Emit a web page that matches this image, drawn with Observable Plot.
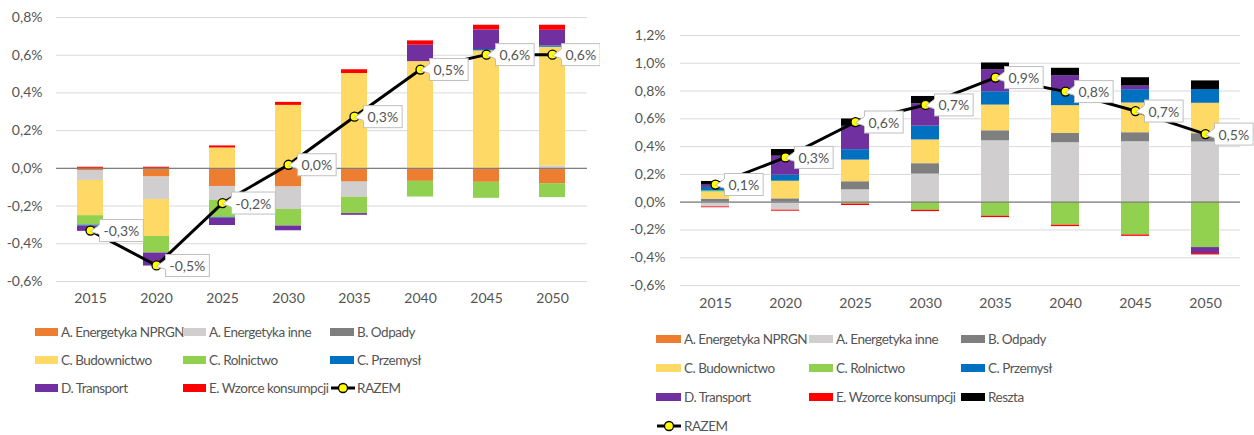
<!DOCTYPE html>
<html>
<head>
<meta charset="utf-8">
<script src="https://cdn.jsdelivr.net/npm/d3@7"></script>
<script src="https://cdn.jsdelivr.net/npm/@observablehq/plot@0.6"></script>
<style>
  html, body { margin: 0; padding: 0; background: #fff; }
  #wrap { position: relative; width: 1254px; height: 435px; font-family: Lato, "Open Sans", sans-serif; color: #595959; }
  .chart { position: absolute; top: 0; }
  .leg { position: absolute; font-size: 13.5px; white-space: nowrap; line-height: 16px; letter-spacing: -0.5px; color: #555; }
  .sw { position: absolute; height: 8px; }
</style>
</head>
<body>
<div id="wrap"></div>
<script>
// ---------- DATA ----------
const years = [2015, 2020, 2025, 2030, 2035, 2040, 2045, 2050];

const seriesNames = ["A. Energetyka NPRGN", "A. Energetyka inne", "B. Odpady", "C. Budownictwo",
  "C. Rolnictwo", "C. Przemysł", "D. Transport", "E. Wzorce konsumpcji", "Reszta"];
const seriesColors = ["#ED7D31", "#D0CECE", "#7F7F7F", "#FFD966", "#92D050", "#0070C0", "#7030A0", "#FF0000", "#000000"];

// Left chart (values in %)
const L_nprgn = [-0.014, -0.046, -0.096, -0.099, -0.073, -0.069, -0.074, -0.081];
const L_inne  = [-0.050, -0.119, -0.074, -0.119, -0.080, 0, 0, 0.012];
const L_odpady = [0, 0, 0, 0, 0, 0, 0, 0];
const L_bud   = [-0.187, -0.196, 0.108, 0.334, 0.503, 0.566, 0.623, 0.630];
const L_rol   = [-0.050, -0.088, -0.090, -0.088, -0.087, -0.083, -0.085, -0.074];
const L_prz   = [-0.005, 0, -0.004, 0, 0, 0, 0.007, 0.007];
const L_trans = [-0.028, -0.069, -0.039, -0.025, -0.009, 0.087, 0.104, 0.083];
const L_wz    = [0.006, 0.006, 0.011, 0.016, 0.020, 0.023, 0.025, 0.027];
const L_razem = [-0.33, -0.515, -0.184, 0.019, 0.274, 0.524, 0.603, 0.603];
const L_ticks = [-0.6, -0.4, -0.2, 0, 0.2, 0.4, 0.6, 0.8];

// Right chart (values in %)
const R_nprgn = [0, 0, 0, 0, 0, 0, 0, 0.003];
const R_inne  = [-0.034, -0.058, 0.089, 0.202, 0.442, 0.428, 0.435, 0.430];
const R_odpady = [0.022, 0.024, 0.058, 0.075, 0.072, 0.067, 0.065, 0.060];
const R_bud   = [0.050, 0.127, 0.156, 0.171, 0.185, 0.200, 0.214, 0.219];
const R_rol   = [0.008, 0, -0.014, -0.058, -0.101, -0.166, -0.236, -0.327];
const R_prz   = [0.026, 0.043, 0.075, 0.099, 0.096, 0.103, 0.096, 0.099];
const R_trans = [0.017, 0.137, 0.168, 0.161, 0.159, 0.113, 0.026, -0.043];
const R_wz    = [-0.006, -0.007, -0.010, -0.010, -0.010, -0.010, -0.010, -0.010];
const R_reszta = [0.026, 0.048, 0.053, 0.053, 0.048, 0.053, 0.060, 0.062];
const R_razem = [0.127, 0.322, 0.577, 0.700, 0.897, 0.796, 0.656, 0.490];
const R_ticks = [-0.6, -0.4, -0.2, 0, 0.2, 0.4, 0.6, 0.8, 1.0, 1.2];

// ---------- HELPERS ----------
const fmt = d => (Math.abs(d) < 1e-9 ? 0 : d).toFixed(1).replace(".", ",") + "%";

function rowsFrom(arrays) {
  const rows = [];
  arrays.forEach((arr, si) => arr.forEach((v, i) => rows.push({year: years[i], series: seriesNames[si], value: v})));
  return rows;
}

function makeChart({arrays, razem, ticks, width, height, marginLeft, marginRight, marginTop, marginBottom, yPad, xPad}) {
  const rows = rowsFrom(arrays);
  const line = years.map((y, i) => ({year: y, value: razem[i], label: fmt(razem[i])}));
  return Plot.plot({
    width, height, marginLeft, marginRight, marginTop, marginBottom,
    style: {fontFamily: "Lato, 'Open Sans', sans-serif", fontSize: "14px", color: "#555", background: "white"},
    x: {type: "band", domain: years, paddingInner: 0.6, paddingOuter: 0.3, label: null, tickSize: 0, tickPadding: xPad, tickFormat: d => String(d)},
    y: {domain: [ticks[0], ticks[ticks.length - 1]], ticks, tickFormat: fmt, label: null, tickSize: 0, tickPadding: yPad},
    color: {domain: seriesNames, range: seriesColors},
    marks: [
      Plot.ruleY(ticks, {stroke: "#D9D9D9", strokeWidth: 1}),
      Plot.barY(rows, {x: "year", y: "value", fill: "series"}),
      Plot.ruleY([0], {stroke: "#7F7F7F", strokeWidth: 1.2}),
      Plot.line(line, {x: "year", y: "value", stroke: "black", strokeWidth: 3}),
      Plot.dot(line, {x: "year", y: "value", r: 4.5, fill: "#FFFF00", stroke: "black", strokeWidth: 1.3}),
      Plot.text(line, {x: "year", y: "value", text: "label", dx: 13, dy: 1, textAnchor: "start", fill: "#555", fontSize: 14})
    ]
  });
}

const wrap = document.getElementById("wrap");
const NS = "http://www.w3.org/2000/svg";

function place(svg, left) {
  svg.classList.add("chart");
  svg.style.left = left + "px";
  wrap.appendChild(svg);
  // callout boxes behind the data labels (sized from the rendered text)
  svg.querySelectorAll('g[aria-label="text"] text').forEach(t => {
    const b = t.getBBox();
    const x0 = b.x - 4, y0 = b.y + b.height / 2 - 11, w = b.width + 8, h = 22;
    const tr = t.getAttribute("transform");
    const p = document.createElementNS(NS, "path");
    p.setAttribute("d", `M${x0 + 0.5},${y0 + h - 7} L${x0 - 9},${y0 + h / 2 + 1} L${x0 + 0.5},${y0 + 5}`);
    p.setAttribute("fill", "white");
    p.setAttribute("stroke", "#BFBFBF");
    const r = document.createElementNS(NS, "rect");
    r.setAttribute("x", x0); r.setAttribute("y", y0);
    r.setAttribute("width", w); r.setAttribute("height", h);
    r.setAttribute("fill", "white"); r.setAttribute("stroke", "#BFBFBF");
    const cover = document.createElementNS(NS, "rect");
    cover.setAttribute("x", x0 - 0.5); cover.setAttribute("y", y0 + 5.5);
    cover.setAttribute("width", 2); cover.setAttribute("height", h - 12.5);
    cover.setAttribute("fill", "white");
    [p, r, cover].forEach(el => {
      if (tr) el.setAttribute("transform", tr);
      t.parentNode.insertBefore(el, t);
    });
  });
}

const left = makeChart({
  arrays: [L_nprgn, L_inne, L_odpady, L_bud, L_rol, L_prz, L_trans, L_wz],
  razem: L_razem, ticks: L_ticks,
  width: 600, height: 315, marginLeft: 56, marginRight: 13, marginTop: 17, marginBottom: 34, yPad: 14, xPad: 12
});
place(left, 0);

const right = makeChart({
  arrays: [R_nprgn, R_inne, R_odpady, R_bud, R_rol, R_prz, R_trans, R_wz, R_reszta],
  razem: R_razem, ticks: R_ticks,
  width: 634, height: 315, marginLeft: 60, marginRight: 14, marginTop: 35, marginBottom: 30, yPad: 15, xPad: 13
});
place(right, 620);

// ---------- LEGENDS ----------
function legendItem(name, color, swX, txtX, yc, isLine) {
  if (isLine) {
    const s = document.createElementNS(NS, "svg");
    s.setAttribute("width", 26); s.setAttribute("height", 12);
    s.style.position = "absolute"; s.style.left = swX + "px"; s.style.top = (yc - 6) + "px";
    s.innerHTML = '<line x1="1" y1="6" x2="25" y2="6" stroke="black" stroke-width="3"/><circle cx="13" cy="6" r="4.5" fill="#FFFF00" stroke="black" stroke-width="1.3"/>';
    wrap.appendChild(s);
  } else {
    const sw = document.createElement("div");
    sw.className = "sw";
    sw.style.left = swX + "px"; sw.style.top = (yc - 4) + "px";
    sw.style.width = (txtX - swX - 3) + "px";
    sw.style.background = color;
    wrap.appendChild(sw);
  }
  const t = document.createElement("div");
  t.className = "leg";
  t.textContent = name;
  t.style.left = txtX + "px"; t.style.top = (yc - 8) + "px";
  wrap.appendChild(t);
}

const colorOf = n => seriesColors[seriesNames.indexOf(n)];
// left legend
const Lcols = [[35, 61], [183, 209], [330, 357]];
const Lrows = [332, 360, 388];
const Litems = ["A. Energetyka NPRGN", "A. Energetyka inne", "B. Odpady", "C. Budownictwo", "C. Rolnictwo", "C. Przemysł", "D. Transport", "E. Wzorce konsumpcji", "RAZEM"];
Litems.forEach((n, i) => {
  const c = Lcols[i % 3], r = Lrows[Math.floor(i / 3)];
  legendItem(n, colorOf(n), c[0], c[1], r, n === "RAZEM");
});
// right legend
const Rcols = [[656, 684], [809, 836], [961, 988]];
const Rrows = [339, 368, 397, 426];
const Ritems = ["A. Energetyka NPRGN", "A. Energetyka inne", "B. Odpady", "C. Budownictwo", "C. Rolnictwo", "C. Przemysł", "D. Transport", "E. Wzorce konsumpcji", "Reszta", "RAZEM"];
Ritems.forEach((n, i) => {
  const c = Rcols[i % 3], r = Rrows[Math.floor(i / 3)];
  legendItem(n, colorOf(n), c[0], c[1], r, n === "RAZEM");
});
</script>
</body>
</html>
